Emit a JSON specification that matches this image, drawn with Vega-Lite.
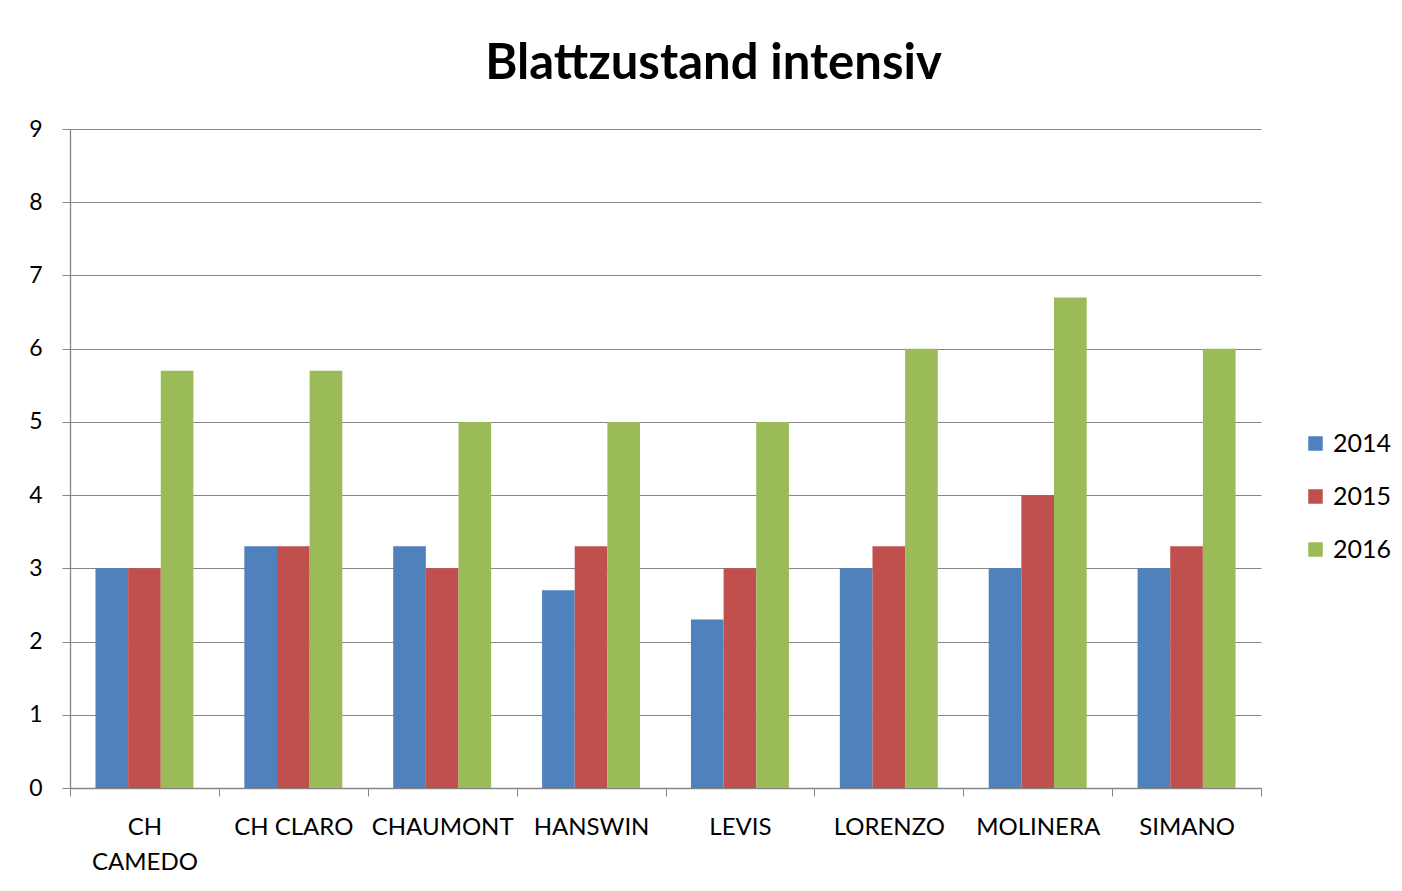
{
  "$schema": "https://vega.github.io/schema/vega-lite/v6.json",
  "autosize": {"type": "none"},
  "width": 1191,
  "height": 659,
  "padding": {"left": 70, "top": 129, "right": 141, "bottom": 103},
  "background": "white",
  "title": {
    "text": "Blattzustand intensiv",
    "fontSize": 49,
    "font": "Lato",
    "fontWeight": "bold",
    "color": "#000000",
    "anchor": "middle",
    "dx": 48,
    "offset": 29
  },
  "data": {
    "values": [
      {"sorte": "CH CAMEDO", "jahr": "2014", "wert": 3.0},
      {"sorte": "CH CAMEDO", "jahr": "2015", "wert": 3.0},
      {"sorte": "CH CAMEDO", "jahr": "2016", "wert": 5.7},
      {"sorte": "CH CLARO", "jahr": "2014", "wert": 3.3},
      {"sorte": "CH CLARO", "jahr": "2015", "wert": 3.3},
      {"sorte": "CH CLARO", "jahr": "2016", "wert": 5.7},
      {"sorte": "CHAUMONT", "jahr": "2014", "wert": 3.3},
      {"sorte": "CHAUMONT", "jahr": "2015", "wert": 3.0},
      {"sorte": "CHAUMONT", "jahr": "2016", "wert": 5.0},
      {"sorte": "HANSWIN", "jahr": "2014", "wert": 2.7},
      {"sorte": "HANSWIN", "jahr": "2015", "wert": 3.3},
      {"sorte": "HANSWIN", "jahr": "2016", "wert": 5.0},
      {"sorte": "LEVIS", "jahr": "2014", "wert": 2.3},
      {"sorte": "LEVIS", "jahr": "2015", "wert": 3.0},
      {"sorte": "LEVIS", "jahr": "2016", "wert": 5.0},
      {"sorte": "LORENZO", "jahr": "2014", "wert": 3.0},
      {"sorte": "LORENZO", "jahr": "2015", "wert": 3.3},
      {"sorte": "LORENZO", "jahr": "2016", "wert": 6.0},
      {"sorte": "MOLINERA", "jahr": "2014", "wert": 3.0},
      {"sorte": "MOLINERA", "jahr": "2015", "wert": 4.0},
      {"sorte": "MOLINERA", "jahr": "2016", "wert": 6.7},
      {"sorte": "SIMANO", "jahr": "2014", "wert": 3.0},
      {"sorte": "SIMANO", "jahr": "2015", "wert": 3.3},
      {"sorte": "SIMANO", "jahr": "2016", "wert": 6.0}
    ]
  },
  "mark": {"type": "bar"},
  "encoding": {
    "x": {
      "field": "sorte",
      "type": "nominal",
      "sort": null,
      "scale": {"paddingInner": 0, "paddingOuter": 0},
      "axis": {
        "title": null,
        "labelAngle": 0,
        "labelFont": "Lato",
        "labelFontSize": 24,
        "labelColor": "#000000",
        "labelPadding": 19,
        "labelExpr": "datum.label == 'CH CAMEDO' ? ['CH', 'CAMEDO'] : datum.label",
        "labelLineHeight": 35,
        "tickBand": "extent",
        "tickSize": 8,
        "tickColor": "#868686",
        "domainColor": "#868686",
        "domainWidth": 1.3,
        "grid": false
      }
    },
    "xOffset": {
      "field": "jahr",
      "type": "nominal",
      "scale": {"paddingInner": 0, "paddingOuter": 0.78}
    },
    "y": {
      "field": "wert",
      "type": "quantitative",
      "scale": {"domain": [0, 9], "nice": false},
      "axis": {
        "title": null,
        "values": [0, 1, 2, 3, 4, 5, 6, 7, 8, 9],
        "labelFont": "Lato",
        "labelFontSize": 23,
        "labelColor": "#000000",
        "labelPadding": 20,
        "tickSize": 8,
        "tickColor": "#868686",
        "domainColor": "#868686",
        "domainWidth": 1.3,
        "gridColor": "#868686",
        "gridWidth": 1.2
      }
    },
    "color": {
      "field": "jahr",
      "type": "nominal",
      "scale": {"domain": ["2014", "2015", "2016"], "range": ["#4F81BD", "#C0504D", "#9BBB59"]},
      "legend": {
        "title": null,
        "orient": "none",
        "legendX": 1233,
        "legendY": 302,
        "symbolType": "square",
        "symbolSize": 210,
        "symbolStrokeWidth": 0,
        "labelFont": "Lato",
        "labelFontSize": 25,
        "labelColor": "#000000",
        "rowPadding": 27,
        "labelOffset": 5
      }
    }
  },
  "config": {"view": {"stroke": null}}
}
